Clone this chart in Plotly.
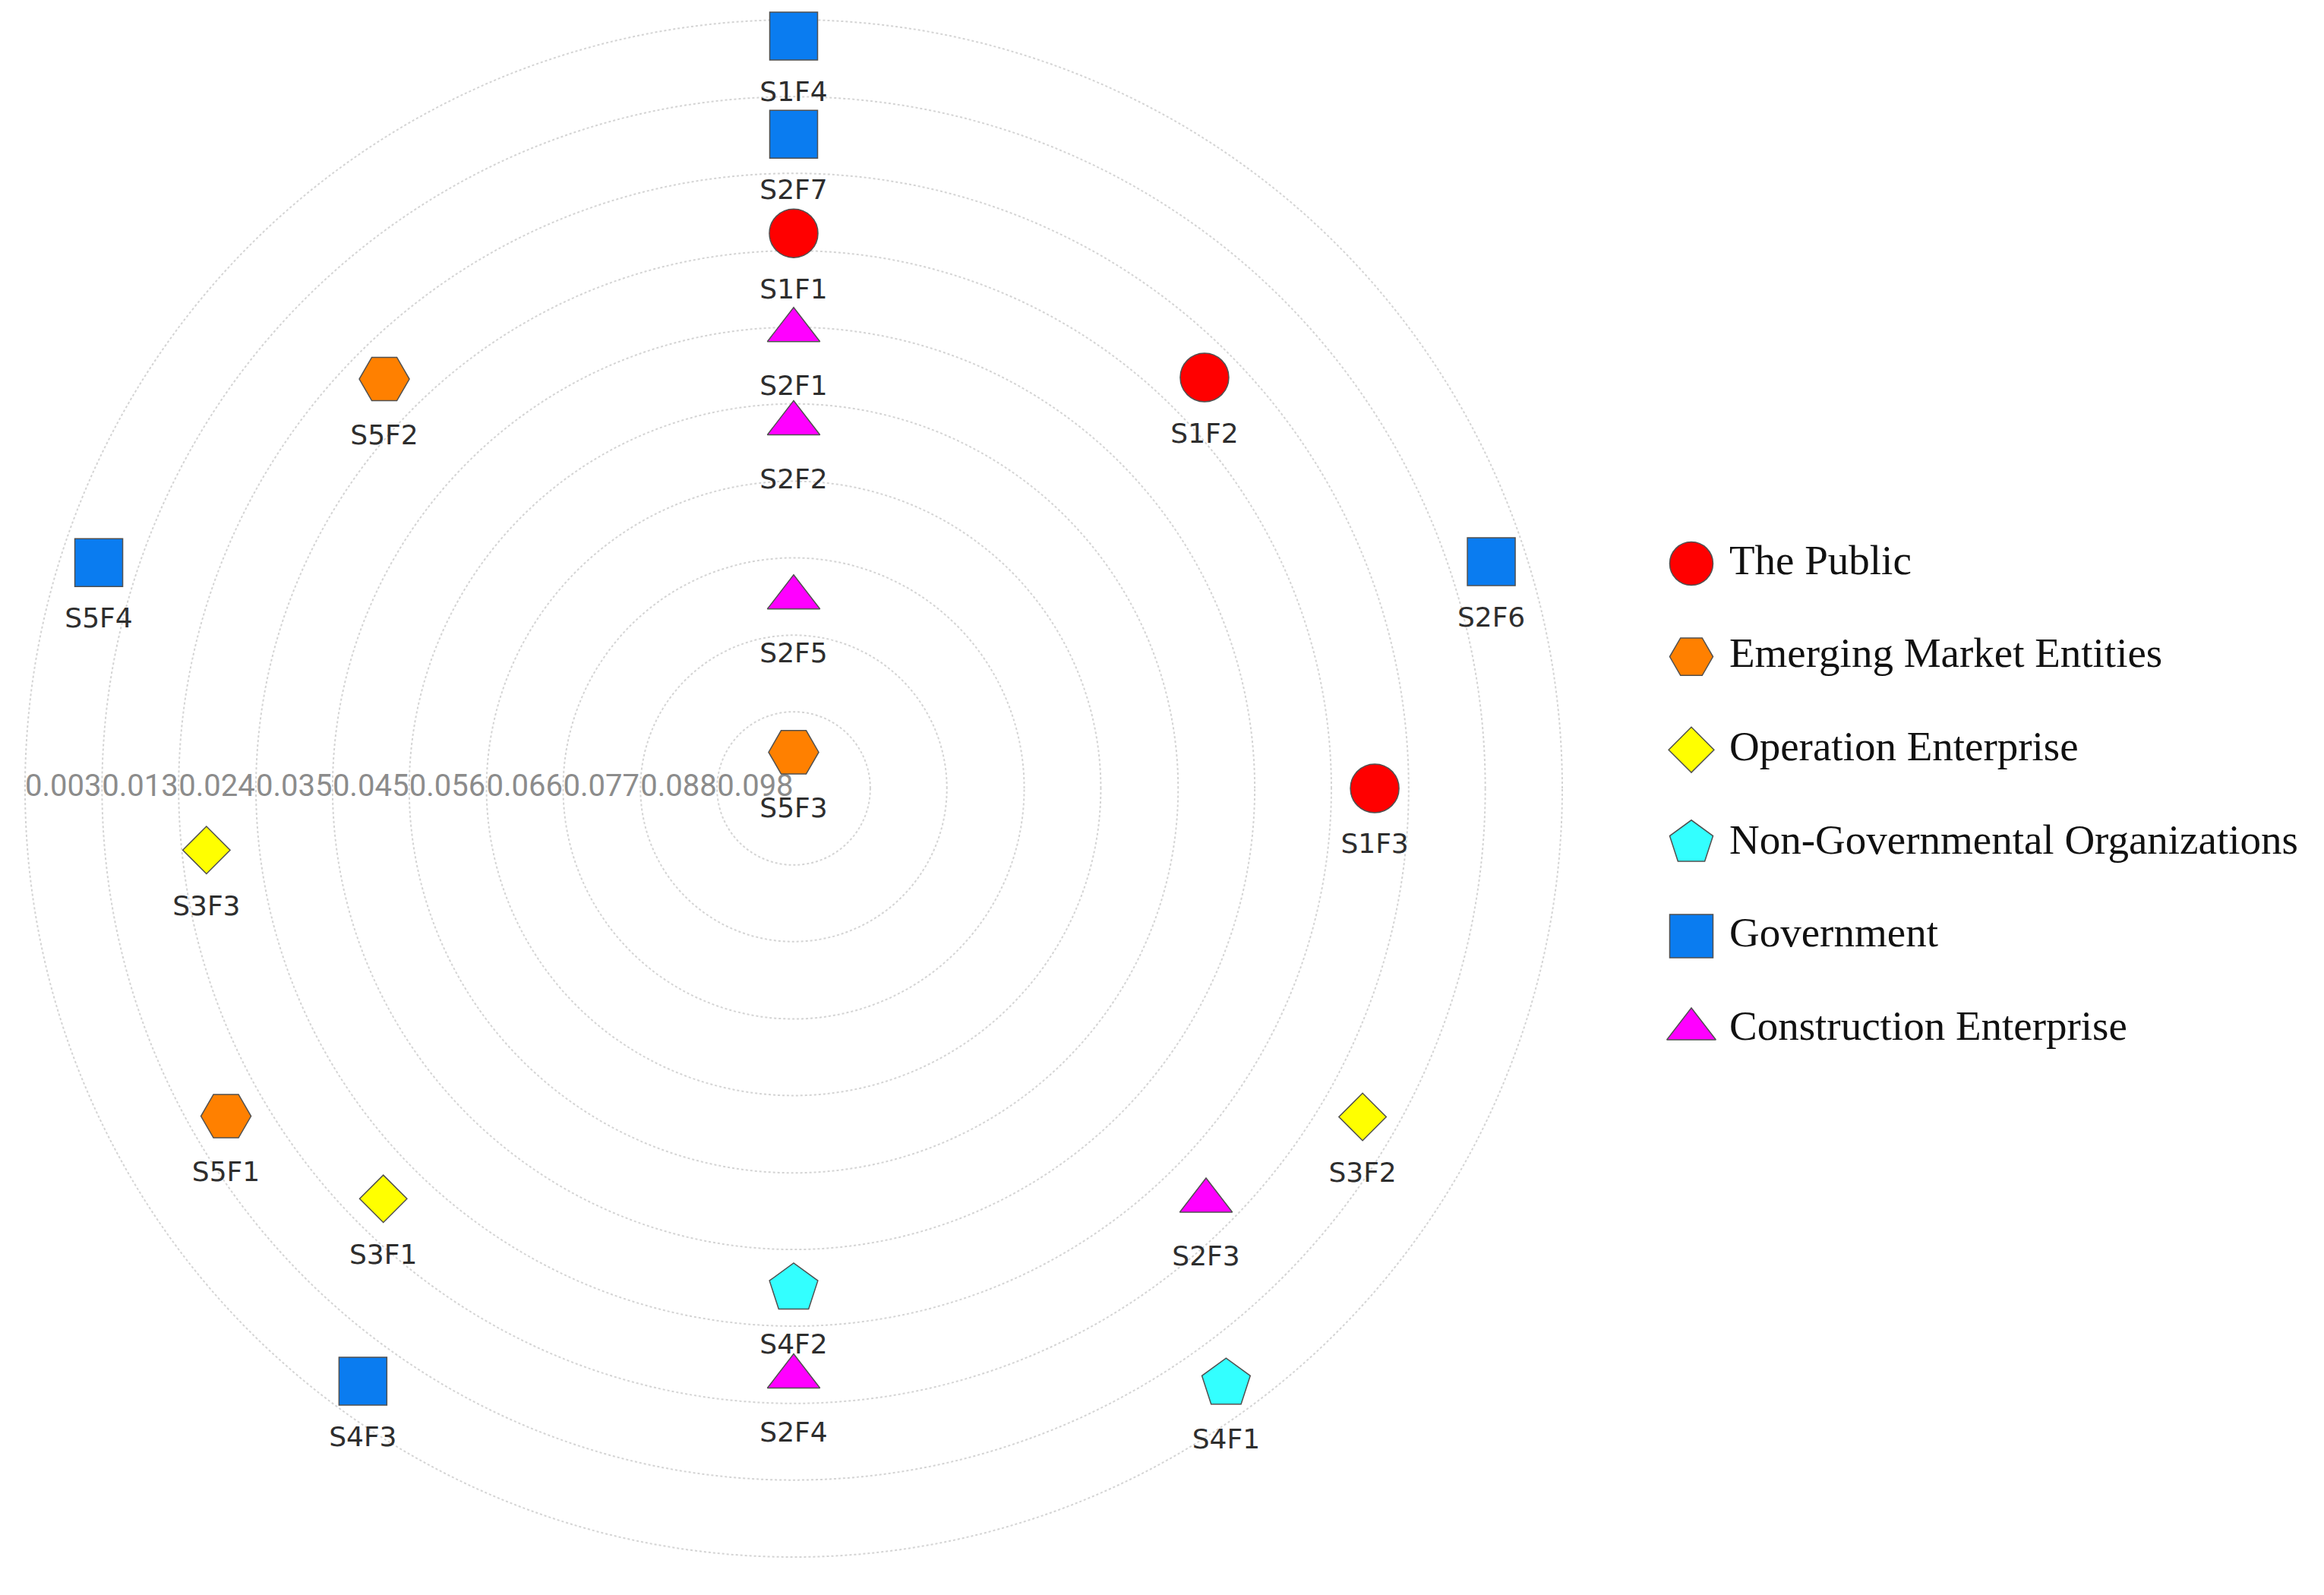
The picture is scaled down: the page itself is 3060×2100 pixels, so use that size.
import plotly.graph_objects as go

# radial axis: values grow towards the centre (outer ring -> inner ring)
tick_vals = [0.00265, 0.0133, 0.0239, 0.0346, 0.0452, 0.0558, 0.0665, 0.0771, 0.0878, 0.0984]
tick_labels = ["0.003", "0.013", "0.024", "0.035", "0.045", "0.056", "0.066", "0.077", "0.088", "0.098"]
r_outer = 0.0010
r_centre = 0.1090

groups = ["The Public", "Emerging Market Entities", "Operation Enterprise",
          "Non-Governmental Organizations", "Government", "Construction Enterprise"]

public_names = ["S1F1", "S1F2", "S1F3"]
public_r = [0.0322, 0.0286, 0.0286]
public_theta = [90, 45, 0]

emerging_names = ["S5F2", "S5F3", "S5F1"]
emerging_r = [0.0289, 0.1040, 0.0183]
emerging_theta = [135, 90, 210]

operation_names = ["S3F3", "S3F1", "S3F2"]
operation_r = [0.0273, 0.0287, 0.0181]
operation_theta = [186, 225, 330]

ngo_names = ["S4F2", "S4F1"]
ngo_r = [0.0398, 0.0072]
ngo_theta = [270, 306]

gov_names = ["S1F4", "S2F7", "S5F4", "S2F6", "S4F3"]
gov_r = [0.0049, 0.0185, 0.0079, 0.0075, 0.0076]
gov_theta = [90, 90, 162, 18, 234]

constr_names = ["S2F1", "S2F2", "S2F5", "S2F3", "S2F4"]
constr_r = [0.0456, 0.0585, 0.0826, 0.0283, 0.0276]
constr_theta = [90, 90, 90, 315, 270]

series = [
    (public_names, public_r, public_theta),
    (emerging_names, emerging_r, emerging_theta),
    (operation_names, operation_r, operation_theta),
    (ngo_names, ngo_r, ngo_theta),
    (gov_names, gov_r, gov_theta),
    (constr_names, constr_r, constr_theta),
]

colors = ["#FF0000", "#FF8000", "#FFFF00", "#33FFFF", "#0A7CF0", "#FF00FF"]
symbols = ["circle", "hexagon2", "diamond", "pentagon", "square", "triangle-up"]
sizes = [64, 66, 48, 67, 63, 60]
legend_sizes = [57, 57, 46, 60, 57, 56]
outline = dict(color="#505050", width=1.5)

fig = go.Figure()

# radial tick labels, written along the left horizontal radius
fig.add_trace(go.Scatterpolar(
    r=tick_vals, theta=[180] * len(tick_vals),
    mode="text", text=tick_labels, textposition="middle right",
    textfont=dict(family="Roboto", size=40, color="#8c8c8c"),
    showlegend=False, hoverinfo="skip", cliponaxis=False
))

for (names, r, theta), grp, col, sym, sz in zip(series, groups, colors, symbols, sizes):
    fig.add_trace(go.Scatterpolar(
        r=r, theta=theta, mode="markers", name=grp, text=names,
        marker=dict(symbol=sym, size=sz, color=col, opacity=1, line=outline),
        showlegend=False, cliponaxis=False
    ))

# node labels below each marker
all_names = [n for s in series for n in s[0]]
all_r = [v for s in series for v in s[1]]
all_theta = [v for s in series for v in s[2]]
fig.add_trace(go.Scatterpolar(
    r=all_r, theta=all_theta, mode="markers+text", text=all_names,
    textposition="bottom center",
    marker=dict(size=92, color="rgba(0,0,0,0)"),
    textfont=dict(family="DejaVu Sans", size=36, color="#2e2e2e"),
    showlegend=False, hoverinfo="skip", cliponaxis=False
))

# legend drawn on a hidden cartesian panel so the symbols keep their size
rows = list(range(len(groups)))
fig.add_trace(go.Scatter(
    x=[0] * len(groups), y=rows, mode="markers",
    marker=dict(symbol=symbols, size=legend_sizes, color=colors, opacity=1, line=outline),
    showlegend=False, hoverinfo="skip", cliponaxis=False
))
fig.add_trace(go.Scatter(
    x=[50] * len(groups), y=rows, mode="text", text=groups,
    textposition="middle right",
    textfont=dict(family="Liberation Serif", size=55, color="#111111"),
    showlegend=False, hoverinfo="skip", cliponaxis=False
))

fig.update_layout(
    width=3060, height=2100,
    margin=dict(l=0, r=0, t=0, b=0),
    paper_bgcolor="white", plot_bgcolor="white",
    showlegend=False,
    polar=dict(
        domain=dict(x=[0.003039, 0.674739], y=[0.020143, 0.998905]),
        bgcolor="white",
        radialaxis=dict(range=[r_centre, r_outer], tickvals=tick_vals,
                        showticklabels=False, ticks="", showline=False,
                        gridcolor="#d4d4d4", griddash="dot", gridwidth=2, angle=180),
        angularaxis=dict(showgrid=False, showticklabels=False, ticks="",
                         showline=False, rotation=0, direction="counterclockwise"),
    ),
    xaxis=dict(domain=[0.72516, 1.0], range=[0, 841], visible=False, fixedrange=True),
    yaxis=dict(domain=[0, 1], range=[11.142, -5.987], visible=False, fixedrange=True),
)

fig.write_html("out.html")
